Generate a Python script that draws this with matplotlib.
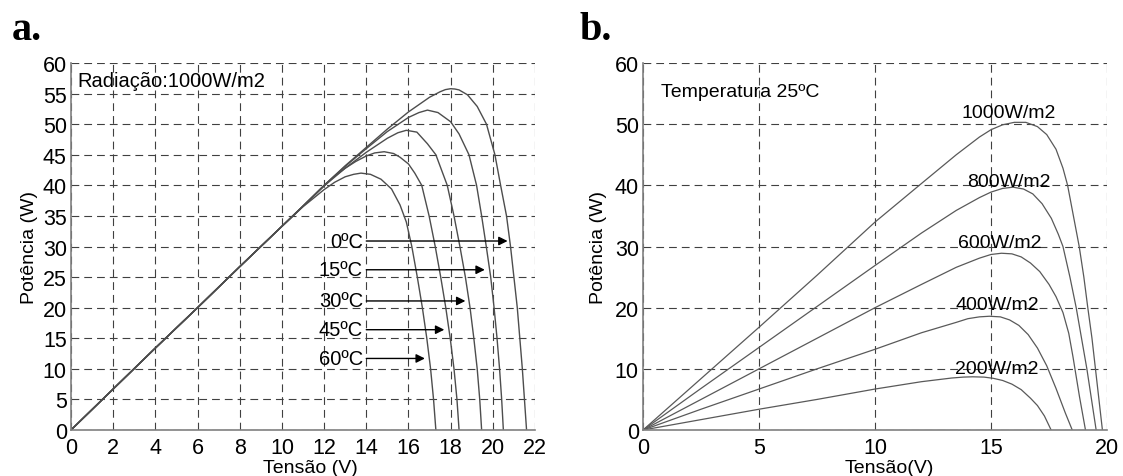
import matplotlib
matplotlib.use('Agg')
import matplotlib.pyplot as plt

plt.rcParams['font.family'] = ['Liberation Sans', 'DejaVu Sans']

# ---- painel a: curvas P-V para varias temperaturas (1000 W/m2)
temp_labels = ['0ºC', '15ºC', '30ºC', '45ºC', '60ºC']

v_0c = [0, 2, 4, 6, 8, 10, 11, 12, 13, 14, 15, 16, 17, 17.5, 17.75, 18.0, 18.2, 18.4, 18.8,
        19.26, 19.7, 20.1, 20.37, 20.65, 20.84, 21.0, 21.16, 21.28, 21.4, 21.5, 21.6]
p_0c = [0, 6.7, 13.4, 20.0, 26.7, 33.3, 36.6, 40.0, 43.2, 46.2, 49.2, 52.0, 54.4, 55.3, 55.65,
        55.8, 55.75, 55.6, 54.8, 52.9, 50.0, 45.0, 40.0, 35.0, 30.0, 25.0, 20.0, 15.0, 10.0,
        5.0, 0]

v_15c = [0, 2, 4, 6, 8, 10, 11, 12, 13, 14, 15, 16, 16.5, 16.9, 17.4, 18.0, 18.4, 18.87,
         19.23, 19.47, 19.69, 19.9, 20.06, 20.2, 20.32, 20.42, 20.5]
p_15c = [0, 6.7, 13.4, 20.0, 26.7, 33.3, 36.6, 40.0, 43.1, 46.0, 48.8, 51.1, 51.9, 52.3, 51.9,
         50.4, 48.4, 45.0, 40.0, 35.0, 30.0, 25.0, 20.0, 15.0, 10.0, 5.0, 0]

v_30c = [0, 2, 4, 6, 8, 10, 11, 12, 13, 14, 15, 15.5, 15.9, 16.4, 16.9, 17.3, 17.84, 18.16,
         18.44, 18.7, 18.92, 19.1, 19.26, 19.38, 19.47]
p_30c = [0, 6.7, 13.4, 20.0, 26.7, 33.3, 36.6, 39.9, 42.8, 45.4, 47.7, 48.6, 49.0, 48.7, 46.8,
         45.0, 40.0, 35.0, 30.0, 25.0, 20.0, 15.0, 10.0, 5.0, 0]

v_45c = [0, 2, 4, 6, 8, 10, 11, 12, 12.5, 13, 13.5, 14, 14.4, 14.85, 15.3, 15.6, 16.0, 16.3,
         16.63, 16.98, 17.27, 17.53, 17.77, 17.98, 18.16, 18.3, 18.4]
p_45c = [0, 6.7, 13.4, 20.0, 26.7, 33.3, 36.6, 39.9, 41.5, 42.8, 43.9, 44.8, 45.3, 45.5, 45.2,
         44.6, 43.5, 42.0, 40.0, 35.0, 30.0, 25.0, 20.0, 15.0, 10.0, 5.0, 0]

v_60c = [0, 2, 4, 6, 8, 10, 11, 12, 12.5, 13.0, 13.4, 13.75, 14.2, 14.7, 15.2, 15.6, 15.9,
         16.16, 16.42, 16.66, 16.87, 17.05, 17.19, 17.3]
p_60c = [0, 6.7, 13.4, 20.0, 26.7, 33.3, 36.5, 39.3, 40.5, 41.4, 41.8, 42.0, 41.8, 41.0, 39.4,
         36.8, 34.0, 30.0, 25.0, 20.0, 15.0, 10.0, 5.0, 0]

# setas: altura (W) e ponta (V)
arrow_p = [30.9, 26.2, 21.1, 16.4, 11.7]
arrow_tip = [20.7, 19.62, 18.7, 17.7, 16.78]
arrow_start = 14.0

# ---- painel b: curvas P-V para varias irradiancias (25 ºC)
irr_labels = ['1000W/m2', '800W/m2', '600W/m2', '400W/m2', '200W/m2']
irr_label_v = [15.75, 15.78, 15.36, 15.25, 15.25]
irr_label_p = [51.2, 39.9, 29.9, 19.8, 9.4]

v_1000 = [0, 2.5, 5, 7.5, 10, 12, 13.5, 14.5, 15.0, 15.5, 16.0, 16.5, 17.0, 17.4, 17.8, 18.1,
          18.3, 18.55, 18.8, 19.0, 19.17, 19.35, 19.5, 19.65, 19.8]
p_1000 = [0, 8.4, 16.8, 25.3, 34.0, 40.3, 45.0, 47.9, 49.1, 49.9, 50.3, 50.3, 49.6, 48.3, 45.9,
          42.8, 40.0, 35.0, 30.0, 25.0, 20.0, 15.0, 10.0, 5.0, 0]

v_800 = [0, 2.5, 5, 7.5, 10, 12, 13.5, 14.5, 15.0, 15.5, 15.95, 16.4, 16.8, 17.2, 17.6, 17.9,
         18.1, 18.4, 18.67, 18.9, 19.13, 19.33, 19.53]
p_800 = [0, 6.8, 13.5, 20.2, 26.9, 32.2, 35.9, 38.0, 38.9, 39.5, 39.7, 39.4, 38.6, 37.0, 34.6,
         32.0, 30.0, 25.0, 20.0, 15.0, 10.0, 5.0, 0]

v_600 = [0, 2.5, 5, 7.5, 10, 12, 13.5, 14.5, 15.0, 15.45, 15.9, 16.3, 16.7, 17.1, 17.5, 17.8,
         18.1, 18.35, 18.53, 18.81, 19.07]
p_600 = [0, 5.0, 10.0, 15.0, 20.0, 23.8, 26.6, 28.1, 28.7, 28.9, 28.8, 28.3, 27.3, 25.9, 23.8,
         21.8, 19.2, 15.8, 12.0, 5.5, 0]

v_400 = [0, 2.5, 5, 7.5, 10, 12, 13.5, 14.0, 14.5, 14.93, 15.4, 15.8, 16.2, 16.6, 17.0, 17.4,
         17.8, 18.2, 18.5]
p_400 = [0, 3.4, 6.7, 10.0, 13.2, 15.9, 17.6, 18.2, 18.5, 18.6, 18.5, 18.0, 17.1, 15.6, 13.4,
         10.5, 6.8, 2.8, 0]

v_200 = [0, 2.5, 5, 7.5, 10, 12, 13.3, 13.8, 14.2, 14.7, 15.1, 15.5, 15.9, 16.3, 16.7, 17.0,
         17.3, 17.59]
p_200 = [0, 1.7, 3.4, 5.0, 6.7, 7.9, 8.5, 8.65, 8.7, 8.65, 8.45, 8.1, 7.5, 6.6, 5.2, 4.0,
         2.3, 0]


def style_axes(ax, xmax, xstep, ymax, ystep):
    ax.set_xlim(0, xmax)
    ax.set_ylim(0, ymax)
    ax.set_xticks(range(0, xmax + 1, xstep))
    ax.set_yticks(range(0, ymax + 1, ystep))
    ax.grid(True, color='0.25', linestyle=(0, (7, 4.5)), linewidth=0.8)
    ax.tick_params(length=0, labelsize=15.5)
    ax.tick_params(axis='y', pad=3)
    ax.tick_params(axis='x', pad=5)
    for s in ['top', 'right']:
        ax.spines[s].set_visible(False)
    for s in ['left', 'bottom']:
        ax.spines[s].set_color('0.5')
        ax.spines[s].set_linewidth(1.2)


fig = plt.figure(figsize=(11.23, 4.77), dpi=100)
ax1 = fig.add_axes([0.0632, 0.0964, 0.4132, 0.7694])
ax2 = fig.add_axes([0.5726, 0.0964, 0.4132, 0.7694])

# painel a
for v, p in [(v_0c, p_0c), (v_15c, p_15c), (v_30c, p_30c), (v_45c, p_45c), (v_60c, p_60c)]:
    ax1.plot(v, p, color='0.3', linewidth=1.0)
style_axes(ax1, 22, 2, 60, 5)
for lab, yp, tip in zip(temp_labels, arrow_p, arrow_tip):
    ax1.annotate('', xy=(tip, yp), xytext=(arrow_start, yp),
                 arrowprops=dict(arrowstyle='-|>', color='k', lw=1.0, mutation_scale=13,
                                 shrinkA=0, shrinkB=0))
    ax1.text(13.85, yp, lab, ha='right', va='center', fontsize=14.5)
ax1.text(0.32, 56.2, 'Radiação:1000W/m2', fontsize=14.5, va='baseline')
ax1.set_xlabel('Tensão (V)', fontsize=14)
ax1.set_ylabel('Potência (W)', fontsize=14)
ax1.xaxis.set_label_coords(0.517, -0.079)
ax1.yaxis.set_label_coords(-0.072, 0.5)

# painel b
for v, p in [(v_1000, p_1000), (v_800, p_800), (v_600, p_600), (v_400, p_400), (v_200, p_200)]:
    ax2.plot(v, p, color='0.35', linewidth=0.9)
style_axes(ax2, 20, 5, 60, 10)
for lab, xv, yp in zip(irr_labels, irr_label_v, irr_label_p):
    ax2.text(xv, yp, lab, ha='center', va='baseline', fontsize=14)
ax2.text(0.78, 54.6, 'Temperatura 25ºC', fontsize=14, va='baseline')
ax2.set_xlabel('Tensão(V)', fontsize=14)
ax2.set_ylabel('Potência (W)', fontsize=14)
ax2.xaxis.set_label_coords(0.530, -0.079)
ax2.yaxis.set_label_coords(-0.078, 0.5)

fig.text(12 / 1123, 1 - 40 / 477, 'a.', fontsize=29, fontweight='bold',
         family='Liberation Serif', va='baseline')
fig.text(580 / 1123, 1 - 40 / 477, 'b.', fontsize=29, fontweight='bold',
         family='Liberation Serif', va='baseline')

fig.savefig('out.png', dpi=100)
